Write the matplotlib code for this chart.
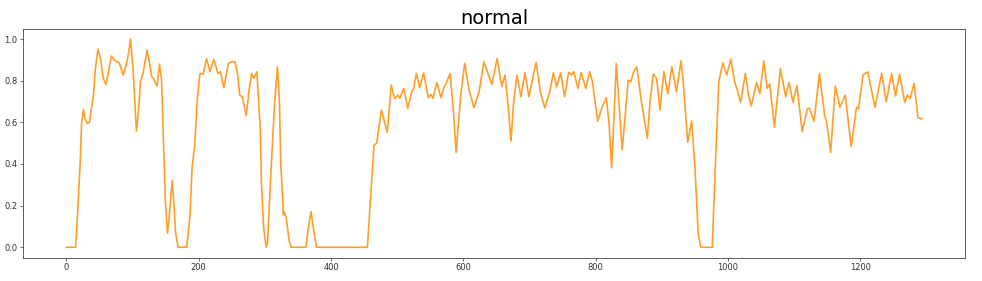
import matplotlib
matplotlib.use('Agg')
import matplotlib.pyplot as plt

# points (x index, value)
x = [0, 14, 17, 21, 23, 26, 28, 32, 35, 41, 44, 48, 52, 56, 60, 63, 68, 74, 80, 86, 91, 94, 97,
     101, 106, 109, 112, 116, 122, 126, 129, 132, 137, 141, 144, 147, 150, 153, 157, 160, 163,
     165, 169, 182, 187, 190, 194, 198, 202, 207, 212, 217, 223, 229, 233, 238, 245, 250, 255,
     259, 262, 266, 272, 276, 280, 283, 288, 293, 295, 298, 302, 304, 310, 315, 319, 322, 324,
     328, 329, 332, 337, 340, 362, 366, 370, 373, 378, 455, 460, 465, 469, 476, 485, 491, 496,
     501, 504, 510, 516, 522, 525, 529, 534, 540, 547, 551, 554, 560, 566, 571, 574, 580, 585,
     589, 596, 602, 609, 616, 624, 631, 643, 651, 658, 663, 667, 672, 676, 681, 687, 693, 699,
     704, 710, 716, 723, 730, 736, 741, 747, 753, 759, 763, 767, 773, 778, 785, 791, 795, 803,
     809, 816, 820, 824, 828, 831, 836, 840, 845, 849, 853, 857, 862, 869, 878, 882, 887, 892,
     897, 903, 909, 915, 922, 929, 932, 936, 939, 945, 950, 955, 959, 976, 981, 986, 992, 998,
     1004, 1010, 1014, 1019, 1026, 1031, 1035, 1043, 1048, 1054, 1059, 1063, 1070, 1079, 1087,
     1092, 1098, 1104, 1112, 1120, 1123, 1130, 1138, 1146, 1149, 1155, 1162, 1169, 1177, 1186,
     1194, 1197, 1204, 1211, 1222, 1232, 1239, 1247, 1253, 1259, 1267, 1271, 1275, 1281, 1287,
     1293]
y = [0.0, 0.0, 0.155, 0.41, 0.59, 0.662, 0.62, 0.595, 0.6, 0.73, 0.86, 0.952, 0.9, 0.81, 0.782,
     0.83, 0.918, 0.896, 0.886, 0.827, 0.883, 0.93, 1.0, 0.85, 0.558, 0.65, 0.795, 0.835, 0.947,
     0.88, 0.819, 0.81, 0.774, 0.88, 0.8, 0.49, 0.2, 0.067, 0.2, 0.32, 0.19, 0.075, 0.0, 0.0,
     0.155, 0.38, 0.49, 0.715, 0.835, 0.832, 0.907, 0.843, 0.902, 0.835, 0.843, 0.766, 0.883,
     0.891, 0.891, 0.827, 0.731, 0.723, 0.632, 0.75, 0.835, 0.811, 0.843, 0.571, 0.3, 0.1, 0.0,
     0.02, 0.41, 0.7, 0.867, 0.7, 0.41, 0.155, 0.17, 0.147, 0.027, 0.0, 0.0, 0.1, 0.171, 0.1,
     0.0, 0.0, 0.251, 0.49, 0.5, 0.659, 0.552, 0.779, 0.715, 0.731, 0.715, 0.763, 0.667, 0.747,
     0.763, 0.835, 0.766, 0.838, 0.718, 0.734, 0.715, 0.792, 0.718, 0.771, 0.787, 0.835, 0.651,
     0.456, 0.731, 0.883, 0.75, 0.67, 0.75, 0.891, 0.782, 0.907, 0.771, 0.827, 0.7, 0.51, 0.7,
     0.827, 0.723, 0.838, 0.723, 0.8, 0.888, 0.75, 0.67, 0.74, 0.838, 0.771, 0.838, 0.723, 0.84,
     0.827, 0.843, 0.763, 0.84, 0.763, 0.843, 0.795, 0.606, 0.667, 0.718, 0.6, 0.382, 0.65,
     0.883, 0.65, 0.467, 0.65, 0.803, 0.795, 0.84, 0.867, 0.7, 0.523, 0.7, 0.832, 0.811, 0.659,
     0.845, 0.736, 0.867, 0.747, 0.896, 0.8, 0.635, 0.504, 0.606, 0.379, 0.059, 0.0, 0.0, 0.41,
     0.795, 0.886, 0.827, 0.904, 0.795, 0.755, 0.696, 0.835, 0.73, 0.678, 0.792, 0.739, 0.895,
     0.763, 0.784, 0.576, 0.859, 0.723, 0.792, 0.696, 0.776, 0.555, 0.667, 0.667, 0.606, 0.835,
     0.632, 0.6, 0.456, 0.774, 0.672, 0.731, 0.483, 0.672, 0.665, 0.827, 0.843, 0.672, 0.835,
     0.699, 0.835, 0.726, 0.832, 0.696, 0.731, 0.715, 0.787, 0.622, 0.616]

fig = plt.figure(figsize=(9.82, 2.81), dpi=100)
ax = fig.add_axes([0.0237, 0.083, 0.959, 0.815])
ax.plot(x, y, color='#ff9f2a', lw=1.2, solid_joinstyle='round')
ax.set_xlim(-65, 1358)
ax.set_ylim(-0.05, 1.05)
ax.set_xticks([0, 200, 400, 600, 800, 1000, 1200])
ax.set_yticks([0.0, 0.2, 0.4, 0.6, 0.8, 1.0])
ax.tick_params(labelsize=6, length=2, width=0.5, pad=2, colors='#333333')
for s in ax.spines.values():
    s.set_linewidth(0.6)
    s.set_color('#444444')
ax.set_title('normal', fontsize=14, pad=3)

fig.savefig('out.png', dpi=100)
